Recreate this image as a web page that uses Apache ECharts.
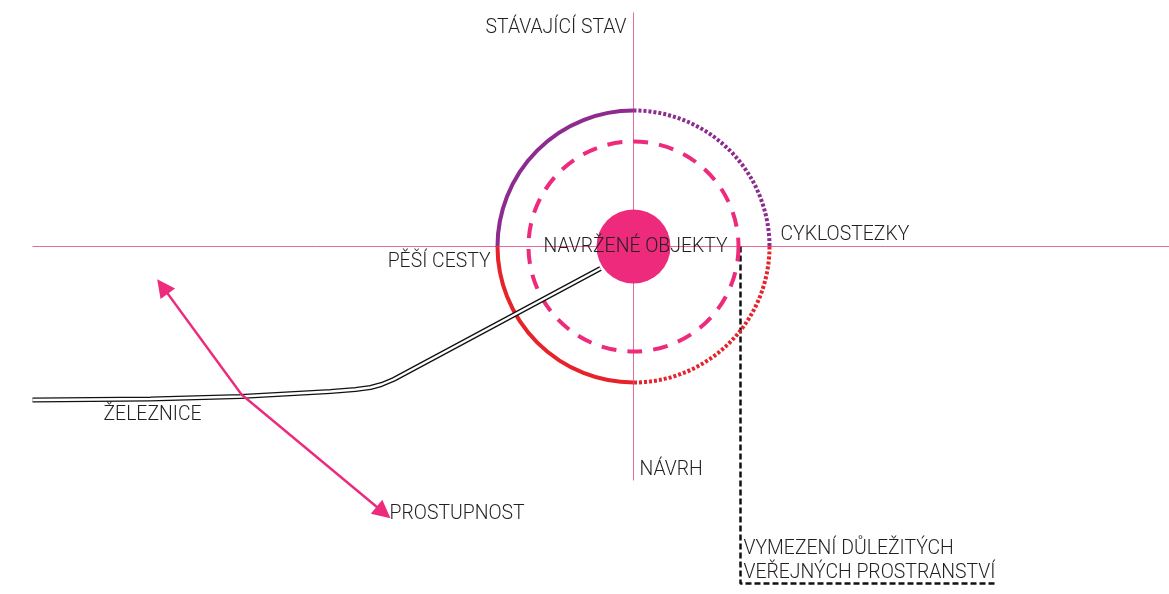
<!DOCTYPE html>
<html><head><meta charset="utf-8">
<script src="https://cdn.jsdelivr.net/npm/echarts@6/dist/echarts.min.js"></script>
<style>html,body{margin:0;padding:0;background:#fff}#c{width:1169px;height:594px}</style>
</head><body><div id="c"></div>
<script>
// Diagram coordinates: origin at the ring centre, x to the right, y up (1 unit = 1 px)
const outerRadius = 136;
const innerRadius = 105;
const coreRadius = 37;
// outer ring quadrants, degrees clockwise from east (screen)
const outerArcs = [[180, 270], [270, 360], [0, 90], [90, 180]];
const verticalAxisLine = [[0, 234], [0, -234]];
const horizontalAxisLine = [[-601, 0], [536, 0]];
const railway = [[-601, -153.5], [-483, -152.5], [-393, -150], [-303, -145], [-278, -143], [-263, -141], [-252, -138], [-240, -133], [-33, -22]];
const arrowBend = [-392, -148];
const arrowTips = [[-471, -40], [-250, -266]];
const boundaryLine = [[107, 0], [107, -337], [362, -337]];
const labelTexts = ['STÁVAJÍCÍ STAV', 'CYKLOSTEZKY', 'PĚŠÍ CESTY', 'NAVRŽENÉ OBJEKTY', 'ŽELEZNICE', 'PROSTUPNOST', 'NÁVRH', 'VYMEZENÍ DŮLEŽITÝCH', 'VEŘEJNÝCH PROSTRANSTVÍ'];
const labelAnchors = [[-7, 218], [147, 11], [-143, -16], [2, -1], [-530, -169], [-244, -268], [6, -224], [110, -303], [110, -327]];
const labelAligns = ['right', 'left', 'right', 'center', 'left', 'left', 'left', 'left', 'left'];

const PINK = '#ED2A7B', PURPLE = '#8D2B8E', RED = '#E6222B', AXIS = '#E66A9F', INK = '#231F20';
const arcStyles = [
  { stroke: PURPLE, lineWidth: 4 },
  { stroke: PURPLE, lineWidth: 4, lineDash: [3, 2] },
  { stroke: RED, lineWidth: 4, lineDash: [3, 2] },
  { stroke: RED, lineWidth: 4 }
];

const chart = echarts.init(document.getElementById('c'));
const lineSeries = (data, style, z) => ({
  type: 'line', data, showSymbol: false, symbol: 'none', silent: true, animation: false,
  lineStyle: style, z
});
chart.setOption({
  animation: false,
  grid: { left: 0, right: 0, top: 0, bottom: 0 },
  xAxis: { type: 'value', min: -633.5, max: 535.5, show: false },
  yAxis: { type: 'value', min: -347.5, max: 246.5, show: false },
  series: [
    lineSeries(verticalAxisLine, { color: AXIS, width: 1 }, 1),
    lineSeries(horizontalAxisLine, { color: AXIS, width: 1 }, 1),
    lineSeries(boundaryLine, { color: '#111', width: 2.5, type: [6, 3] }, 2),
    {
      type: 'custom', z: 3, animation: false, silent: true,
      data: [[innerRadius]],
      renderItem(params, api) {
        const c = api.coord([0, 0]);
        const r = api.size([api.value(0), 0])[0];
        return { type: 'circle', shape: { cx: c[0], cy: c[1], r },
          style: { fill: null, stroke: PINK, lineWidth: 4, lineDash: [15, 11] } };
      }
    },
    {
      type: 'custom', z: 4, animation: false, silent: true,
      data: outerArcs.map(a => [outerRadius, a[0], a[1]]),
      renderItem(params, api) {
        const c = api.coord([0, 0]);
        const r = api.size([api.value(0), 0])[0];
        return { type: 'arc', shape: { cx: c[0], cy: c[1], r,
            startAngle: api.value(1) * Math.PI / 180, endAngle: api.value(2) * Math.PI / 180 },
          style: Object.assign({ fill: null }, arcStyles[params.dataIndex]) };
      }
    },
    lineSeries(railway, { color: '#111', width: 5 }, 5),
    lineSeries(railway, { color: '#fff', width: 2.4 }, 6),
    {
      type: 'custom', z: 7, animation: false, silent: true,
      data: [[coreRadius]],
      renderItem(params, api) {
        const c = api.coord([0, 0]);
        const r = api.size([api.value(0), 0])[0];
        return { type: 'circle', shape: { cx: c[0], cy: c[1], r }, style: { fill: PINK } };
      }
    },
    {
      type: 'lines', coordinateSystem: 'cartesian2d', z: 8, animation: false, silent: true,
      symbol: ['none', 'triangle'], symbolSize: 18,
      lineStyle: { color: PINK, width: 2.4, opacity: 1 },
      data: arrowTips.map(t => ({ coords: [arrowBend, t] }))
    },
    {
      type: 'custom', z: 10, animation: false, silent: true,
      data: labelAnchors.map(a => [a[0], a[1]]),
      renderItem(params, api) {
        const p = api.coord([api.value(0), api.value(1)]);
        return { type: 'text', x: p[0], y: p[1],
          style: { text: labelTexts[params.dataIndex], fill: INK,
            font: '300 19.4px Roboto', align: labelAligns[params.dataIndex], verticalAlign: 'middle' } };
      }
    }
  ]
});
</script></body></html>
